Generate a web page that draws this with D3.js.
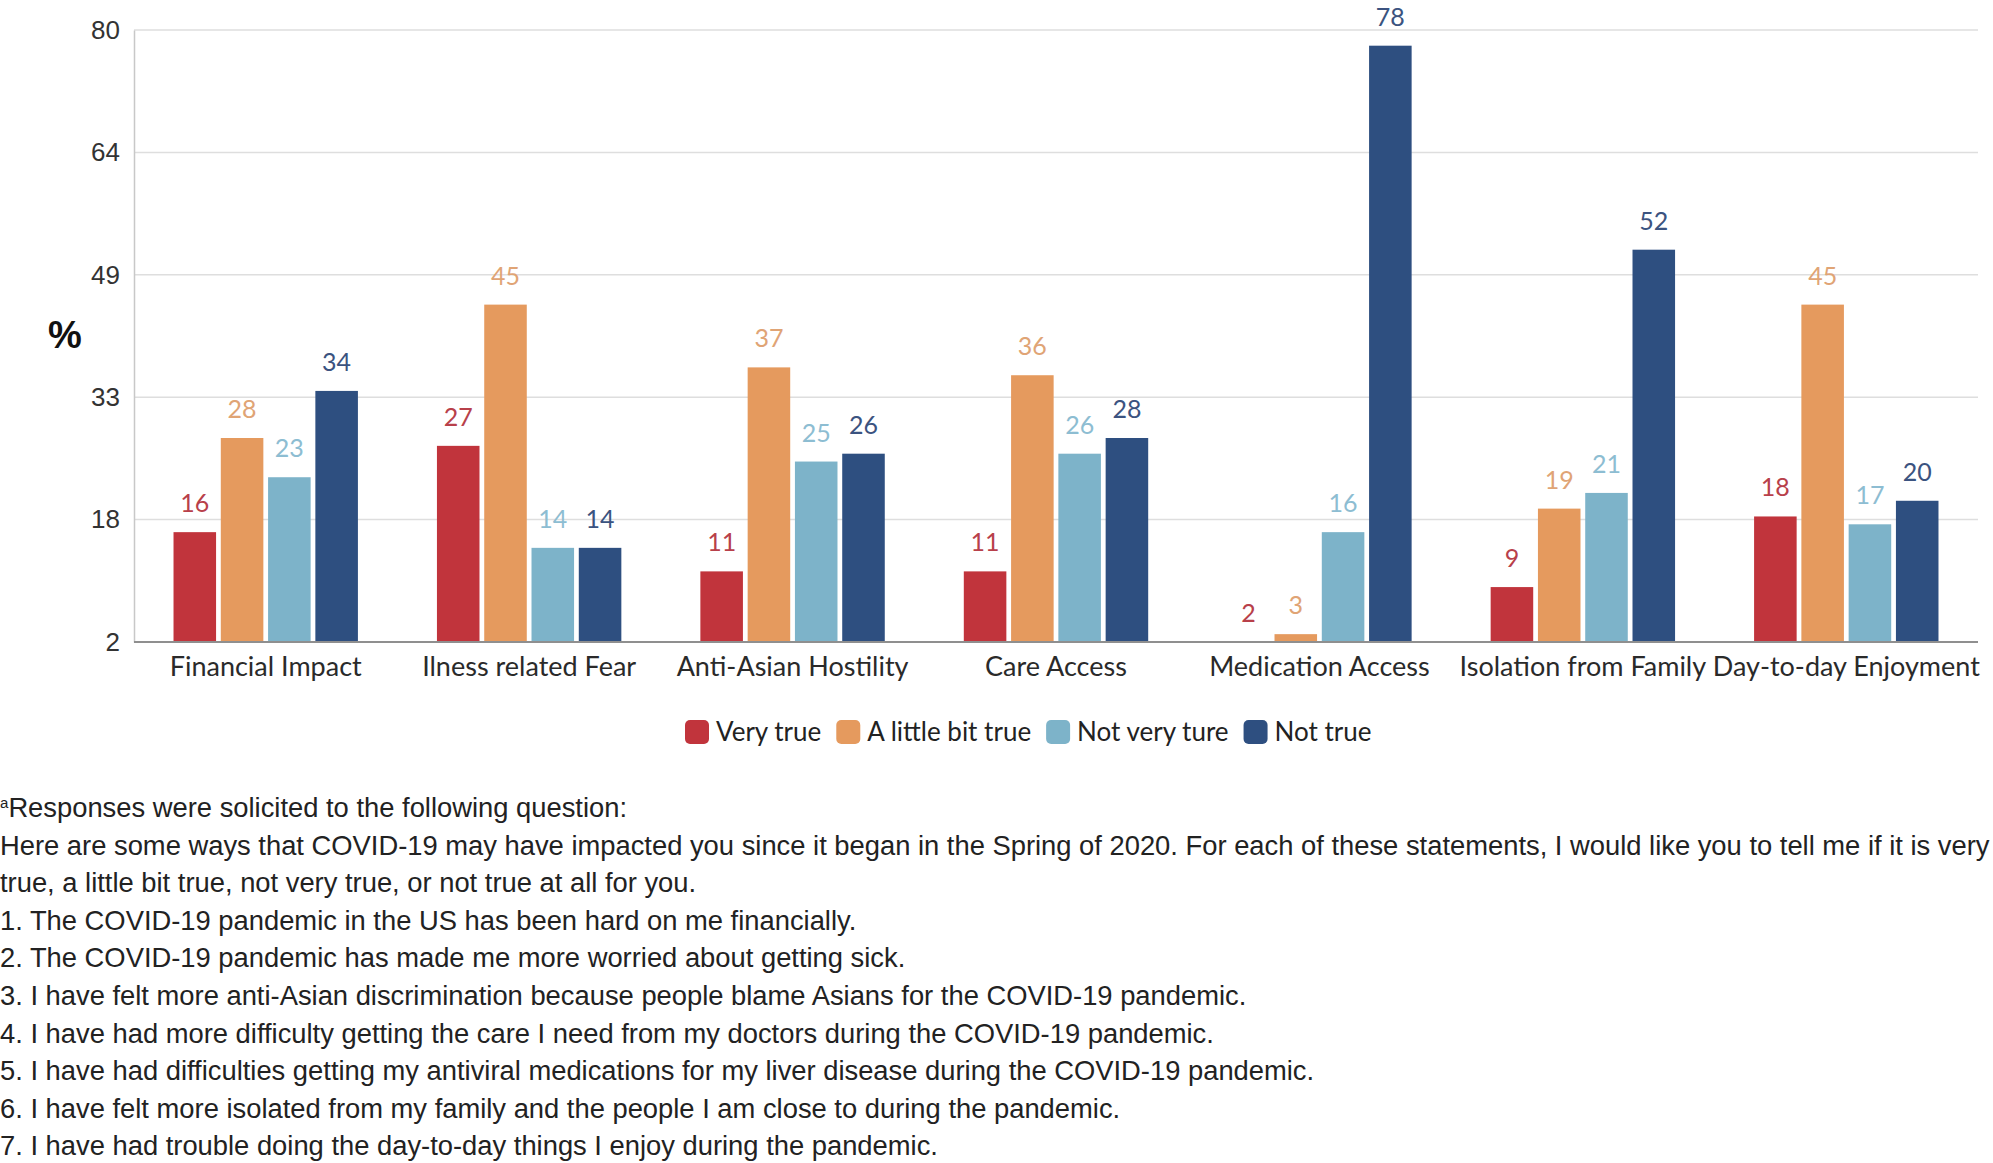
<!DOCTYPE html>
<html>
<head>
<meta charset="utf-8">
<script src="https://cdn.jsdelivr.net/npm/d3@7"></script>
<style>
  html, body { margin: 0; padding: 0; background: #fff; }
  svg { display: block; }
</style>
</head>
<body>
<div id="chart"></div>
<script>
const categories = ["Financial Impact", "Ilness related Fear", "Anti-Asian Hostility", "Care Access",
                    "Medication Access", "Isolation from Family", "Day-to-day Enjoyment"];
const seriesNames = ["Very true", "A little bit true", "Not very ture", "Not true"];
const veryTrue     = [16, 27, 11, 11, 2, 9, 18];
const littleTrue   = [28, 45, 37, 36, 3, 19, 45];
const notVeryTrue  = [23, 14, 25, 26, 16, 21, 17];
const notTrue      = [34, 14, 26, 28, 78, 52, 20];
const yTicks = [2, 17.6, 33.2, 48.8, 64.4, 80];

const barColors   = ["#c1343c", "#e59a5e", "#7db3c9", "#2e4f80"];
const labelColors = ["#b8404a", "#e0a475", "#8dbdd2", "#3b5380"];

const footnote = [
  "Responses were solicited to the following question:",
  "Here are some ways that COVID-19 may have impacted you since it began in the Spring of 2020. For each of these statements, I would like you to tell me if it is very",
  "true, a little bit true, not very true, or not true at all for you.",
  "1. The COVID-19 pandemic in the US has been hard on me financially.",
  "2. The COVID-19 pandemic has made me more worried about getting sick.",
  "3. I have felt more anti-Asian discrimination because people blame Asians for the COVID-19 pandemic.",
  "4. I have had more difficulty getting the care I need from my doctors during the COVID-19 pandemic.",
  "5. I have had difficulties getting my antiviral medications for my liver disease during the COVID-19 pandemic.",
  "6. I have felt more isolated from my family and the people I am close to during the pandemic.",
  "7. I have had trouble doing the day-to-day things I enjoy during the pandemic."
];

const width = 1993, height = 1163;
const plotLeft = 134, plotRight = 1978, plotTop = 30, plotBottom = 642;

const rows = categories.map((c, i) => ({
  cat: c,
  values: [veryTrue[i], littleTrue[i], notVeryTrue[i], notTrue[i]]
}));

const svg = d3.select("#chart").append("svg")
  .attr("width", width)
  .attr("height", height);

svg.append("rect").attr("width", width).attr("height", height).attr("fill", "#fff");

const y = d3.scaleLinear().domain([2, 80]).range([plotBottom, plotTop]);
const x0 = d3.scaleBand().domain(categories).range([plotLeft, plotRight])
  .paddingInner(0.3).paddingOuter(0.15);
const x1 = d3.scaleBand().domain(d3.range(4)).range([0, x0.bandwidth()]).paddingInner(0.1);

// grid lines
svg.append("g").selectAll("line")
  .data(yTicks.slice(1))
  .join("line")
  .attr("x1", plotLeft).attr("x2", plotRight)
  .attr("y1", d => y(d)).attr("y2", d => y(d))
  .attr("stroke", "#dedede")
  .attr("stroke-width", 1.5);

// y axis
const yAxis = d3.axisLeft(y).tickValues(yTicks).tickFormat(d3.format(".0f")).tickSize(0).tickPadding(14);
const gy = svg.append("g").attr("transform", `translate(${plotLeft},0)`).call(yAxis);
gy.select(".domain").attr("stroke", "#c8c8c8").attr("stroke-width", 1.5);
gy.selectAll("text")
  .attr("font-family", "'Liberation Sans', Arial, sans-serif")
  .attr("font-size", 26)
  .attr("fill", "#333");

svg.append("text")
  .attr("x", 48).attr("y", 348)
  .attr("font-family", "'Liberation Sans', Arial, sans-serif")
  .attr("font-size", 38)
  .attr("font-weight", "bold")
  .attr("fill", "#111")
  .text("%");

// bars
const groups = svg.append("g").selectAll("g")
  .data(rows)
  .join("g")
  .attr("transform", d => `translate(${x0(d.cat)},0)`);

groups.selectAll("rect")
  .data(d => d.values)
  .join("rect")
  .attr("x", (d, i) => x1(i))
  .attr("width", x1.bandwidth())
  .attr("y", d => y(d))
  .attr("height", d => y(2) - y(d))
  .attr("fill", (d, i) => barColors[i]);

groups.selectAll("text.val")
  .data(d => d.values)
  .join("text")
  .attr("class", "val")
  .attr("x", (d, i) => x1(i) + x1.bandwidth() / 2)
  .attr("y", d => y(d) - 20)
  .attr("text-anchor", "middle")
  .attr("font-family", "Lato, sans-serif")
  .attr("font-size", 25)
  .attr("fill", (d, i) => labelColors[i])
  .text(d => d);

// baseline
svg.append("line")
  .attr("x1", plotLeft).attr("x2", plotRight)
  .attr("y1", plotBottom).attr("y2", plotBottom)
  .attr("stroke", "#8f8f8f").attr("stroke-width", 2);

// category labels
svg.append("g").selectAll("text")
  .data(categories)
  .join("text")
  .attr("x", d => x0(d) + x0.bandwidth() / 2)
  .attr("y", 676)
  .attr("text-anchor", "middle")
  .attr("font-family", "Lato, sans-serif")
  .attr("font-size", 27)
  .attr("fill", "#2a2a2a")
  .text(d => d);

// legend
const legend = svg.append("g");
let lx = 685;
seriesNames.forEach((name, i) => {
  legend.append("rect")
    .attr("x", lx).attr("y", 720)
    .attr("width", 24).attr("height", 24)
    .attr("rx", 5)
    .attr("fill", barColors[i]);
  const t = legend.append("text")
    .attr("x", lx + 31).attr("y", 741)
    .attr("font-family", "Lato, sans-serif")
    .attr("font-size", 26)
    .attr("fill", "#222")
    .text(name);
  lx += 31 + t.node().getComputedTextLength() + 15;
});

// footnote
const foot = svg.append("g")
  .attr("font-family", "'Liberation Sans', Arial, sans-serif")
  .attr("fill", "#222");
const lines = foot.selectAll("text")
  .data(footnote)
  .join("text")
  .attr("x", 0)
  .attr("y", (d, i) => 817 + i * 37.6)
  .attr("font-size", 26);
lines.each(function(d, i) {
  const t = d3.select(this);
  if (i === 0) {
    t.append("tspan").attr("font-size", 14).attr("dy", -9).text("a");
    t.append("tspan").attr("dy", 9).text(d);
  } else {
    t.text(d);
  }
});
// fit the long line to the page width
const w2 = lines.nodes()[1].getComputedTextLength();
const fs = 26 * 1990 / w2;
lines.attr("font-size", fs);
lines.select("tspan").attr("font-size", fs * 0.55);
</script>
</body>
</html>
